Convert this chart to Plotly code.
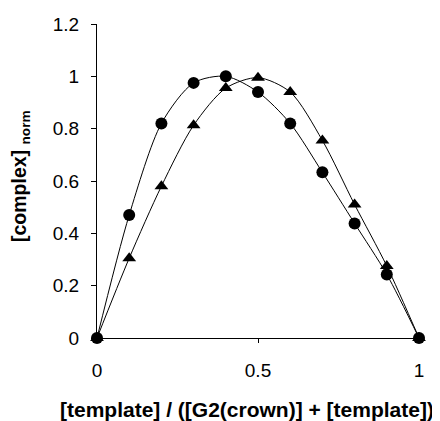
import plotly.graph_objects as go

x_vals = [0, 0.1, 0.2, 0.3, 0.4, 0.5, 0.6, 0.7, 0.8, 0.9, 1.0]
circle_vals = [0, 0.47, 0.82, 0.975, 1.0, 0.94, 0.82, 0.633, 0.438, 0.243, 0]
triangle_vals = [0, 0.305, 0.58, 0.813, 0.955, 0.995, 0.94, 0.755, 0.51, 0.275, 0]

x_title = "[template] / ([G2(crown)] + [template])"
y_title = "[complex] <sub>norm</sub>"
FONT = "Liberation Sans, Arial, sans-serif"

OFF = 8  # page body margin
W, H = 440 - OFF, 421 - OFF
L, R, T, B = 97 - OFF, 21, 24 - OFF, 83
pw, ph = W - L - R, H - T - B
x0px, y0px = 97, 338  # plot-area origin in window pixels

fig = go.Figure()
fig.add_trace(go.Scatter(
    x=x_vals, y=triangle_vals, mode="lines+markers",
    line=dict(color="black", width=1, shape="spline", smoothing=0.8),
    marker=dict(symbol="triangle-up", size=12, color="black"),
    cliponaxis=False, showlegend=False))
fig.add_trace(go.Scatter(
    x=x_vals, y=circle_vals, mode="lines+markers",
    line=dict(color="black", width=1, shape="spline", smoothing=0.8),
    marker=dict(symbol="circle", size=12, color="black"),
    cliponaxis=False, showlegend=False))

fig.add_annotation(text="<b>" + x_title + "</b>", xref="paper", yref="paper",
                   x=(247 - x0px) / pw, y=(y0px - 409) / ph, xanchor="center", yanchor="middle",
                   showarrow=False, font=dict(size=21), borderpad=0)
fig.add_annotation(text="<b>" + y_title + "</b>", xref="paper", yref="paper",
                   x=(20 - x0px) / pw, y=(y0px - 176) / ph, xanchor="center", yanchor="middle",
                   textangle=-90, showarrow=False, font=dict(size=19.5), borderpad=0)

fig.update_layout(
    width=W, height=H,
    margin=dict(l=L, r=R, t=T, b=B),
    paper_bgcolor="white", plot_bgcolor="white",
    font=dict(family=FONT, color="black", size=19),
    xaxis=dict(range=[0, 1], tickvals=[0, 0.5, 1], ticktext=["0", "0.5", "1"],
               showgrid=False, zeroline=False, showline=True, linecolor="black", linewidth=1,
               ticks="outside", ticklen=4, tickcolor="black", automargin=False,
               ticklabelstandoff=11),
    yaxis=dict(range=[0, 1.2], tickvals=[0, 0.2, 0.4, 0.6, 0.8, 1.0, 1.2],
               ticktext=["0", "0.2", "0.4", "0.6", "0.8", "1", "1.2"],
               showgrid=False, zeroline=False, showline=True, linecolor="black", linewidth=1,
               ticks="outside", ticklen=5, tickcolor="black", automargin=False,
               ticklabelstandoff=8),
)
fig.write_html("out.html")
